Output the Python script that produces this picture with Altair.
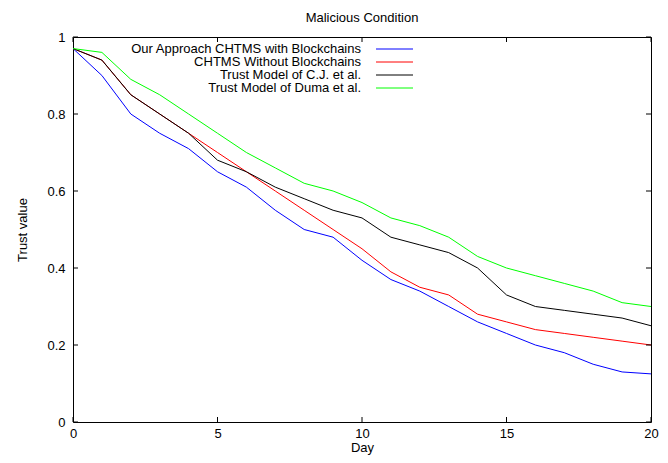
import altair as alt
import pandas as pd

days = list(range(21))
names = [
    "Our Approach CHTMS with Blockchains",
    "CHTMS Without Blockchains",
    "Trust Model of C.J. et al.",
    "Trust Model of Duma et al.",
]
colors = ["#0000ff", "#ff0000", "#000000", "#00ff00"]
blue = [0.97, 0.90, 0.80, 0.75, 0.71, 0.65, 0.61, 0.55, 0.50, 0.48, 0.42,
        0.37, 0.34, 0.30, 0.26, 0.23, 0.20, 0.18, 0.15, 0.13, 0.125]
red = [0.97, 0.94, 0.85, 0.80, 0.75, 0.70, 0.65, 0.60, 0.55, 0.50, 0.45,
       0.39, 0.35, 0.33, 0.28, 0.26, 0.24, 0.23, 0.22, 0.21, 0.20]
black = [0.97, 0.94, 0.85, 0.80, 0.75, 0.68, 0.65, 0.61, 0.58, 0.55, 0.53,
         0.48, 0.46, 0.44, 0.40, 0.33, 0.30, 0.29, 0.28, 0.27, 0.25]
green = [0.97, 0.96, 0.89, 0.85, 0.80, 0.75, 0.70, 0.66, 0.62, 0.60, 0.57,
         0.53, 0.51, 0.48, 0.43, 0.40, 0.38, 0.36, 0.34, 0.31, 0.30]
series = [blue, red, black, green]
x_ticks = [0, 5, 10, 15, 20]
y_ticks = [0, 0.2, 0.4, 0.6, 0.8, 1.0]

W, H = 578, 385
FONT = "Liberation Sans"
FS = 13

xscale = alt.Scale(domain=[0, 20], nice=False)
yscale = alt.Scale(domain=[0, 1], nice=False)

xaxis = alt.Axis(values=x_ticks, format="d", ticks=False, domain=False, grid=False,
                 labelFlush=False, labelOverlap=False,
                 labelPadding=5, labelFontSize=FS, labelFont=FONT, labelColor="black",
                 title="Day", titleFontSize=FS, titleFont=FONT, titleFontWeight="normal",
                 titlePadding=1, titleColor="black")
yaxis = alt.Axis(values=y_ticks, format="~g", ticks=False, domain=False, grid=False,
                 labelFlush=False, labelOverlap=False,
                 labelPadding=8, labelFontSize=FS, labelFont=FONT, labelColor="black",
                 title="Trust value", titleFontSize=FS, titleFont=FONT, titleFontWeight="normal",
                 titlePadding=17, titleColor="black")

def X(field="day"):
    return alt.X(f"{field}:Q", scale=xscale, axis=xaxis)

def Y(field="trust"):
    return alt.Y(f"{field}:Q", scale=yscale, axis=yaxis)

layers = []
for name, col, vals in zip(names, colors, series):
    df = pd.DataFrame({"day": days, "trust": vals})
    layers.append(
        alt.Chart(df).mark_line(color=col, strokeWidth=1).encode(x=X(), y=Y())
    )

xt = pd.DataFrame({"day": x_ticks})
yt = pd.DataFrame({"trust": y_ticks})
L = 5
layers.append(alt.Chart(xt).mark_rule(color="black", strokeWidth=1).encode(
    x=X(), y=alt.value(H), y2=alt.value(H - L)))
layers.append(alt.Chart(xt).mark_rule(color="black", strokeWidth=1).encode(
    x=X(), y=alt.value(0), y2=alt.value(L)))
layers.append(alt.Chart(yt).mark_rule(color="black", strokeWidth=1).encode(
    y=Y(), x=alt.value(0), x2=alt.value(L)))
layers.append(alt.Chart(yt).mark_rule(color="black", strokeWidth=1).encode(
    y=Y(), x=alt.value(W), x2=alt.value(W - L)))

# manual legend (gnuplot style: label left, sample right)
for i, (name, col) in enumerate(zip(names, colors)):
    ypos = 12 + 13 * i
    ldf = pd.DataFrame({"label": [name]})
    layers.append(alt.Chart(ldf).mark_text(
        align="right", baseline="middle", fontSize=FS, font=FONT, color="black"
    ).encode(text="label:N", x=alt.value(288), y=alt.value(ypos)))
    layers.append(alt.Chart(ldf).mark_rule(color=col, strokeWidth=1).encode(
        x=alt.value(303), x2=alt.value(340), y=alt.value(ypos)))

chart = alt.layer(*layers).properties(
    width=W, height=H,
    title=alt.TitleParams("Malicious Condition", fontSize=FS, font=FONT,
                          fontWeight="normal", color="black", offset=6),
    autosize=alt.AutoSizeParams(type="none"),
    padding={"left": 65, "top": 29, "right": 9, "bottom": 33},
).configure_view(stroke="black", strokeWidth=1)

chart.save("out.html", embed_options={"renderer": "svg", "actions": False})
